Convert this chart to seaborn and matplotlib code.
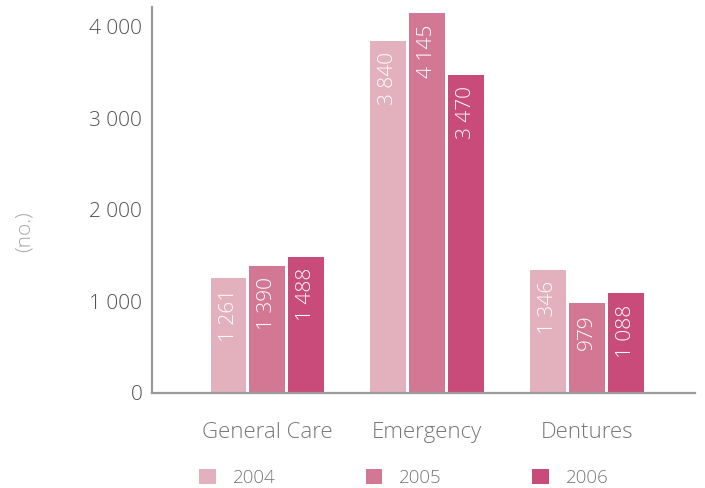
import matplotlib
matplotlib.use("Agg")
import matplotlib.pyplot as plt
import seaborn as sns
import pandas as pd
from matplotlib.patches import Patch

categories = ["General Care", "Emergency", "Dentures"]
years = ["2004", "2005", "2006"]
values_2004 = [1261, 3840, 1346]
values_2005 = [1390, 4145, 979]
values_2006 = [1488, 3470, 1088]
yticks = [0, 1000, 2000, 3000, 4000]
ytick_labels = ["0", "1 000", "2 000", "3 000", "4 000"]
colors = ["#E3B0BE", "#D27895", "#C94B79"]

def fmt(v):
    return f"{v:,}".replace(",", " ")

rows = []
for yr, vals in zip(years, [values_2004, values_2005, values_2006]):
    for c, v in zip(categories, vals):
        rows.append({"category": c, "year": yr, "value": v})
df = pd.DataFrame(rows)

sns.set_style("white")
plt.rcParams["font.family"] = ["Open Sans", "DejaVu Sans"]

fig = plt.figure(figsize=(7.05, 4.88), dpi=100)
ax = fig.add_axes([152 / 705, 95 / 488, 543 / 705, 386 / 488])

sns.barplot(data=df, x="category", y="value", hue="year", order=categories,
            hue_order=years, palette=colors, width=0.725, gap=0.07,
            saturation=1, edgecolor="none", legend=False, ax=ax)

ax.set_xlim(-0.72, 2.675)
ax.set_ylim(0, 4215)
ax.set_yticks(yticks)
ax.set_yticklabels(ytick_labels)

axis_gray = "#9A9A9A"
for side in ["top", "right"]:
    ax.spines[side].set_visible(False)
for side in ["left", "bottom"]:
    ax.spines[side].set_color(axis_gray)
    ax.spines[side].set_linewidth(1.6)

ax.tick_params(axis="y", direction="in", length=13, width=1.6, color=axis_gray,
               labelsize=15, labelcolor="#505050", pad=7)
ax.tick_params(axis="x", length=0, labelsize=16, labelcolor="#777777", pad=21)
for lab in ax.get_yticklabels() + ax.get_xticklabels():
    lab.set_fontweight("light")

ax.set_xlabel("")
ax.set_ylabel("")
fig.text(25 / 705, 1 - 232 / 488, "(no.)", rotation=90, ha="center", va="center",
         fontsize=15, color="#A8A8A8", fontweight="light")

# value labels inside the bars, rotated, anchored near the top
for container in ax.containers:
    for bar in container:
        h = bar.get_height()
        ax.text(bar.get_x() + bar.get_width() / 2, h - 120, fmt(int(round(h))),
                rotation=90, ha="center", va="top", color="white",
                fontsize=15, fontweight="light")

handles = [Patch(facecolor=c, edgecolor="none") for c in colors]
leg = ax.legend(handles, years, ncol=3, frameon=False, loc="center left",
                bbox_to_anchor=(47 / 543, -0.22), handlelength=0.9,
                handleheight=0.9, handletextpad=0.9, columnspacing=4.8,
                fontsize=13.5, borderaxespad=0, borderpad=0)
for t in leg.get_texts():
    t.set_color("#777777")
    t.set_fontweight("light")

fig.savefig("out.png", dpi=100)
